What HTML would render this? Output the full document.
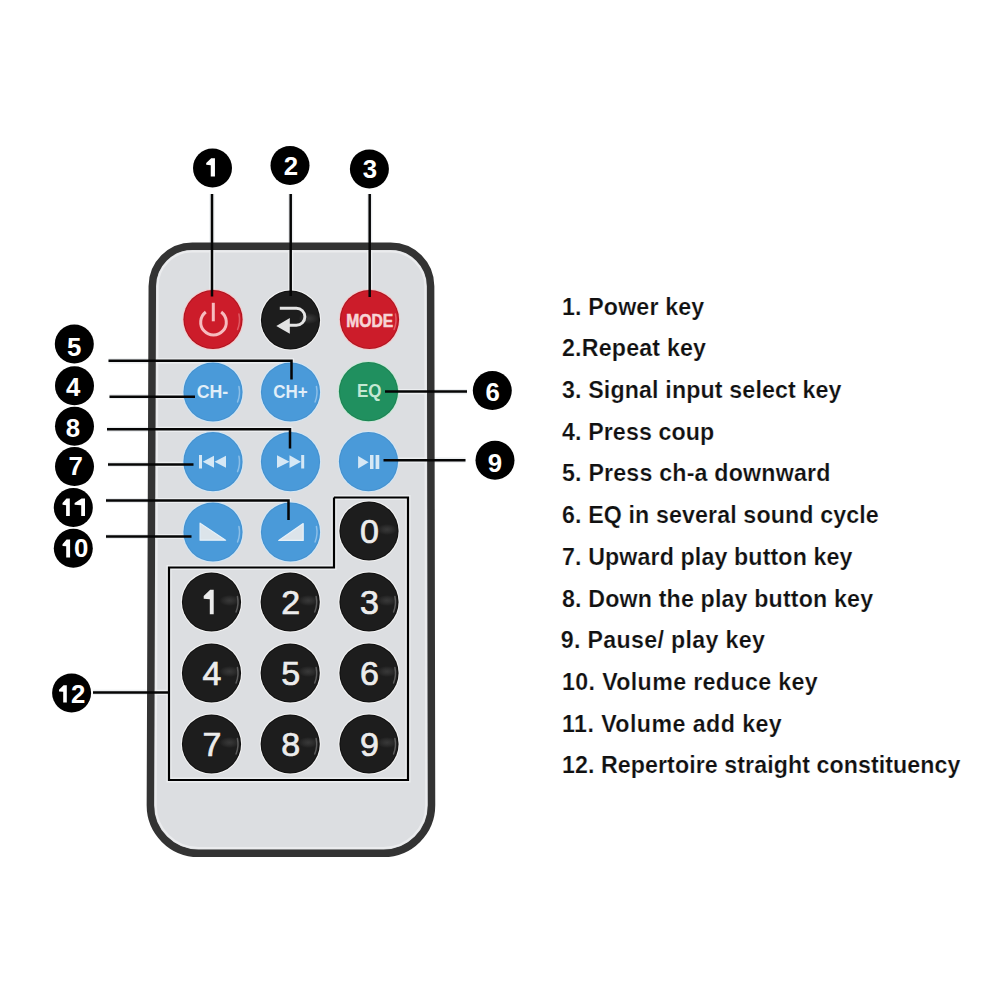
<!DOCTYPE html>
<html><head><meta charset="utf-8"><style>
html,body{margin:0;padding:0;background:#fff;width:1000px;height:1000px;overflow:hidden}
svg{display:block}
</style></head><body>
<svg width="1000" height="1000" viewBox="0 0 1000 1000">
<defs>
<radialGradient id="gK"><stop offset="0" stop-color="#4a4a4a" stop-opacity="0.6"/><stop offset="1" stop-color="#5a5a5a" stop-opacity="0"/></radialGradient>
<radialGradient id="gR"><stop offset="0" stop-color="#f07078" stop-opacity="0.5"/><stop offset="1" stop-color="#f07078" stop-opacity="0"/></radialGradient>
<radialGradient id="gB"><stop offset="0" stop-color="#9fcdf0" stop-opacity="0.6"/><stop offset="1" stop-color="#9fcdf0" stop-opacity="0"/></radialGradient>
</defs>
<path d="M192.30 246.3 H390.60 A40 40 0 0 1 430.60 286.3 L431.50 805.3 A48 48 0 0 1 383.50 853.3 H198.40 A48 48 0 0 1 150.40 805.3 L152.30 286.3 A40 40 0 0 1 192.30 246.3 Z" fill="#dcdee1"/>
<polyline points="212,194 212,296.5" fill="none" stroke="#eceef0" stroke-width="5.2" stroke-linejoin="miter"/>
<polyline points="290.7,194 290.7,296" fill="none" stroke="#eceef0" stroke-width="5.2" stroke-linejoin="miter"/>
<polyline points="369.7,194 369.7,297" fill="none" stroke="#eceef0" stroke-width="5.2" stroke-linejoin="miter"/>
<polyline points="108.5,360.8 291.5,360.8 291.5,379.5" fill="none" stroke="#eceef0" stroke-width="5.2" stroke-linejoin="miter"/>
<polyline points="109.5,396.7 195,396.7" fill="none" stroke="#eceef0" stroke-width="5.2" stroke-linejoin="miter"/>
<polyline points="107,429.3 290,429.3 290,448.5" fill="none" stroke="#eceef0" stroke-width="5.2" stroke-linejoin="miter"/>
<polyline points="108,464.4 193.5,464.4" fill="none" stroke="#eceef0" stroke-width="5.2" stroke-linejoin="miter"/>
<polyline points="106,500.5 288.5,500.5 288.5,520" fill="none" stroke="#eceef0" stroke-width="5.2" stroke-linejoin="miter"/>
<polyline points="106,536.5 191.5,536.5" fill="none" stroke="#eceef0" stroke-width="5.2" stroke-linejoin="miter"/>
<polyline points="385,391.6 467,391.6" fill="none" stroke="#eceef0" stroke-width="5.2" stroke-linejoin="miter"/>
<polyline points="383.5,460.2 465.5,460.2" fill="none" stroke="#eceef0" stroke-width="5.2" stroke-linejoin="miter"/>
<polyline points="93,692.4 169,692.4" fill="none" stroke="#eceef0" stroke-width="5.2" stroke-linejoin="miter"/>
<polyline points="334,497.5 408,497.5 408,780 169,780 169,567.5 334,567.5 334,497.5" fill="none" stroke="#eceef0" stroke-width="5"/>
<path d="M192.30 246.3 H390.60 A40 40 0 0 1 430.60 286.3 L431.50 805.3 A48 48 0 0 1 383.50 853.3 H198.40 A48 48 0 0 1 150.40 805.3 L152.30 286.3 A40 40 0 0 1 192.30 246.3 Z" fill="none" stroke="#333" stroke-width="7.5"/>
<path d="M192.30 251.6 H390.60 A34.7 34.7 0 0 1 425.30 286.3 L426.20 805.3 A42.7 42.7 0 0 1 383.50 848.0 H198.40 A42.7 42.7 0 0 1 155.70 805.3 L157.60 286.3 A34.7 34.7 0 0 1 192.30 251.6 Z" fill="none" stroke="#ebecee" stroke-width="2"/>
<circle cx="213" cy="319.5" r="30.6" fill="#f4c9cb"/>
<circle cx="213" cy="319.5" r="29.6" fill="#b0141f"/>
<circle cx="213" cy="319.5" r="28.5" fill="#cc1c2a"/>
<path d="M238.92 313.99 A26.5 26.5 0 0 1 237.57 329.43" fill="none" stroke="#f39aa0" stroke-width="1.5" stroke-linecap="round" opacity="0.5"/>
<circle cx="290.5" cy="320" r="30.6" fill="#f4f4f4"/>
<circle cx="290.5" cy="320" r="29.6" fill="#121212"/>
<circle cx="290.5" cy="320" r="28.5" fill="#1d1d1d"/>
<ellipse cx="308.5" cy="318.5" rx="10" ry="5.5" fill="url(#gK)"/>
<circle cx="369.5" cy="319.5" r="30.6" fill="#f4c9cb"/>
<circle cx="369.5" cy="319.5" r="29.6" fill="#b0141f"/>
<circle cx="369.5" cy="319.5" r="28.5" fill="#cc1c2a"/>
<path d="M395.42 313.99 A26.5 26.5 0 0 1 394.07 329.43" fill="none" stroke="#f39aa0" stroke-width="1.5" stroke-linecap="round" opacity="0.5"/>
<circle cx="213" cy="392" r="30.6" fill="#d3e6f4"/>
<circle cx="213" cy="392" r="29.6" fill="#4592d0"/>
<circle cx="213" cy="392" r="28.5" fill="#4a9ad9"/>
<path d="M238.92 386.49 A26.5 26.5 0 0 1 237.57 401.93" fill="none" stroke="#cfe6f7" stroke-width="1.5" stroke-linecap="round" opacity="0.5"/>
<circle cx="290.5" cy="392" r="30.6" fill="#d3e6f4"/>
<circle cx="290.5" cy="392" r="29.6" fill="#4592d0"/>
<circle cx="290.5" cy="392" r="28.5" fill="#4a9ad9"/>
<path d="M316.42 386.49 A26.5 26.5 0 0 1 315.07 401.93" fill="none" stroke="#cfe6f7" stroke-width="1.5" stroke-linecap="round" opacity="0.5"/>
<circle cx="368.5" cy="391.6" r="30.6" fill="#c8e8d6"/>
<circle cx="368.5" cy="391.6" r="29.6" fill="#1c8554"/>
<circle cx="368.5" cy="391.6" r="28.5" fill="#20905f"/>
<circle cx="213" cy="461.7" r="30.6" fill="#d3e6f4"/>
<circle cx="213" cy="461.7" r="29.6" fill="#4592d0"/>
<circle cx="213" cy="461.7" r="28.5" fill="#4a9ad9"/>
<path d="M238.92 456.19 A26.5 26.5 0 0 1 237.57 471.63" fill="none" stroke="#cfe6f7" stroke-width="1.5" stroke-linecap="round" opacity="0.5"/>
<circle cx="290.5" cy="461.7" r="30.6" fill="#d3e6f4"/>
<circle cx="290.5" cy="461.7" r="29.6" fill="#4592d0"/>
<circle cx="290.5" cy="461.7" r="28.5" fill="#4a9ad9"/>
<circle cx="368.5" cy="461.6" r="30.6" fill="#d3e6f4"/>
<circle cx="368.5" cy="461.6" r="29.6" fill="#4592d0"/>
<circle cx="368.5" cy="461.6" r="28.5" fill="#4a9ad9"/>
<circle cx="213" cy="532" r="30.6" fill="#d3e6f4"/>
<circle cx="213" cy="532" r="29.6" fill="#4592d0"/>
<circle cx="213" cy="532" r="28.5" fill="#4a9ad9"/>
<path d="M238.92 526.49 A26.5 26.5 0 0 1 237.57 541.93" fill="none" stroke="#cfe6f7" stroke-width="1.5" stroke-linecap="round" opacity="0.5"/>
<circle cx="290.5" cy="532" r="30.6" fill="#d3e6f4"/>
<circle cx="290.5" cy="532" r="29.6" fill="#4592d0"/>
<circle cx="290.5" cy="532" r="28.5" fill="#4a9ad9"/>
<path d="M316.42 526.49 A26.5 26.5 0 0 1 315.07 541.93" fill="none" stroke="#cfe6f7" stroke-width="1.5" stroke-linecap="round" opacity="0.5"/>
<circle cx="369" cy="531" r="30.6" fill="#f4f4f4"/>
<circle cx="369" cy="531" r="29.6" fill="#121212"/>
<circle cx="369" cy="531" r="28.5" fill="#1d1d1d"/>
<ellipse cx="387" cy="529.5" rx="10" ry="5.5" fill="url(#gK)"/>
<circle cx="211.5" cy="602" r="30.6" fill="#f4f4f4"/>
<circle cx="211.5" cy="602" r="29.6" fill="#121212"/>
<circle cx="211.5" cy="602" r="28.5" fill="#1d1d1d"/>
<ellipse cx="229.5" cy="600.5" rx="10" ry="5.5" fill="url(#gK)"/>
<path d="M237.42 596.49 A26.5 26.5 0 0 1 236.07 611.93" fill="none" stroke="#9a9a9a" stroke-width="1.5" stroke-linecap="round" opacity="0.5"/>
<circle cx="290.2" cy="602" r="30.6" fill="#f4f4f4"/>
<circle cx="290.2" cy="602" r="29.6" fill="#121212"/>
<circle cx="290.2" cy="602" r="28.5" fill="#1d1d1d"/>
<ellipse cx="308.2" cy="600.5" rx="10" ry="5.5" fill="url(#gK)"/>
<path d="M316.12 596.49 A26.5 26.5 0 0 1 314.77 611.93" fill="none" stroke="#9a9a9a" stroke-width="1.5" stroke-linecap="round" opacity="0.5"/>
<circle cx="369" cy="602" r="30.6" fill="#f4f4f4"/>
<circle cx="369" cy="602" r="29.6" fill="#121212"/>
<circle cx="369" cy="602" r="28.5" fill="#1d1d1d"/>
<ellipse cx="387" cy="600.5" rx="10" ry="5.5" fill="url(#gK)"/>
<path d="M394.92 596.49 A26.5 26.5 0 0 1 393.57 611.93" fill="none" stroke="#9a9a9a" stroke-width="1.5" stroke-linecap="round" opacity="0.5"/>
<circle cx="211.5" cy="673" r="30.6" fill="#f4f4f4"/>
<circle cx="211.5" cy="673" r="29.6" fill="#121212"/>
<circle cx="211.5" cy="673" r="28.5" fill="#1d1d1d"/>
<ellipse cx="229.5" cy="671.5" rx="10" ry="5.5" fill="url(#gK)"/>
<path d="M237.42 667.49 A26.5 26.5 0 0 1 236.07 682.93" fill="none" stroke="#9a9a9a" stroke-width="1.5" stroke-linecap="round" opacity="0.5"/>
<circle cx="290.2" cy="673" r="30.6" fill="#f4f4f4"/>
<circle cx="290.2" cy="673" r="29.6" fill="#121212"/>
<circle cx="290.2" cy="673" r="28.5" fill="#1d1d1d"/>
<ellipse cx="308.2" cy="671.5" rx="10" ry="5.5" fill="url(#gK)"/>
<path d="M316.12 667.49 A26.5 26.5 0 0 1 314.77 682.93" fill="none" stroke="#9a9a9a" stroke-width="1.5" stroke-linecap="round" opacity="0.5"/>
<circle cx="369" cy="673" r="30.6" fill="#f4f4f4"/>
<circle cx="369" cy="673" r="29.6" fill="#121212"/>
<circle cx="369" cy="673" r="28.5" fill="#1d1d1d"/>
<ellipse cx="387" cy="671.5" rx="10" ry="5.5" fill="url(#gK)"/>
<path d="M394.92 667.49 A26.5 26.5 0 0 1 393.57 682.93" fill="none" stroke="#9a9a9a" stroke-width="1.5" stroke-linecap="round" opacity="0.5"/>
<circle cx="211.5" cy="744" r="30.6" fill="#f4f4f4"/>
<circle cx="211.5" cy="744" r="29.6" fill="#121212"/>
<circle cx="211.5" cy="744" r="28.5" fill="#1d1d1d"/>
<ellipse cx="229.5" cy="742.5" rx="10" ry="5.5" fill="url(#gK)"/>
<path d="M237.42 738.49 A26.5 26.5 0 0 1 236.07 753.93" fill="none" stroke="#9a9a9a" stroke-width="1.5" stroke-linecap="round" opacity="0.5"/>
<circle cx="290.2" cy="744" r="30.6" fill="#f4f4f4"/>
<circle cx="290.2" cy="744" r="29.6" fill="#121212"/>
<circle cx="290.2" cy="744" r="28.5" fill="#1d1d1d"/>
<ellipse cx="308.2" cy="742.5" rx="10" ry="5.5" fill="url(#gK)"/>
<path d="M316.12 738.49 A26.5 26.5 0 0 1 314.77 753.93" fill="none" stroke="#9a9a9a" stroke-width="1.5" stroke-linecap="round" opacity="0.5"/>
<circle cx="369" cy="744" r="30.6" fill="#f4f4f4"/>
<circle cx="369" cy="744" r="29.6" fill="#121212"/>
<circle cx="369" cy="744" r="28.5" fill="#1d1d1d"/>
<ellipse cx="387" cy="742.5" rx="10" ry="5.5" fill="url(#gK)"/>
<path d="M394.92 738.49 A26.5 26.5 0 0 1 393.57 753.93" fill="none" stroke="#9a9a9a" stroke-width="1.5" stroke-linecap="round" opacity="0.5"/>
<path d="M205.8 312 A12.8 12.8 0 1 0 221.2 312" fill="none" stroke="#f6bcbf" stroke-width="3"/>
<line x1="213.3" y1="302.8" x2="213.3" y2="321.3" stroke="#f6bcbf" stroke-width="3"/>
<path d="M279.8 308.2 H296.4 A8.5 8.5 0 0 1 296.4 325.2 H289" fill="none" stroke="#e4e4e4" stroke-width="2.9"/>
<polygon points="276.3,325.9 289.8,318 289.8,333.8" fill="#e4e4e4"/>
<text x="369.8" y="326.6" font-family='"Liberation Sans", sans-serif' font-weight="bold" font-size="18.5" fill="#f7d4d5" stroke="#f7d4d5" stroke-width="0.6" text-anchor="middle" textLength="47" lengthAdjust="spacingAndGlyphs">MODE</text>
<text x="212.5" y="397.7" font-family='"Liberation Sans", sans-serif' font-weight="bold" font-size="18" fill="#e1eef8" text-anchor="middle" textLength="31.5" lengthAdjust="spacingAndGlyphs">CH-</text>
<text x="290.5" y="398" font-family='"Liberation Sans", sans-serif' font-weight="bold" font-size="18" fill="#e1eef8" text-anchor="middle" textLength="34.5" lengthAdjust="spacingAndGlyphs">CH+</text>
<text x="369.2" y="397.2" font-family='"Liberation Sans", sans-serif' font-weight="bold" font-size="18.6" fill="#c4e8d3" text-anchor="middle" textLength="24.5" lengthAdjust="spacingAndGlyphs">EQ</text>
<rect x="199" y="455" width="3" height="13.5" fill="#d6e8f5"/>
<polygon points="202.7,461.7 214,455.7 214,467.7" fill="#d6e8f5"/>
<polygon points="214.5,461.7 226,455.7 226,467.7" fill="#d6e8f5"/>
<polygon points="277,455.3 289.5,461.7 277,468.1" fill="#d6e8f5"/>
<polygon points="289.5,455.3 301,461.7 289.5,468.1" fill="#d6e8f5"/>
<rect x="301.2" y="455" width="3" height="13.5" fill="#d6e8f5"/>
<polygon points="358.1,456 368.6,462.3 358.1,468.6" fill="#d6e8f5"/>
<rect x="370" y="455" width="3.5" height="14" fill="#d6e8f5"/>
<rect x="375.6" y="455" width="3.7" height="14" fill="#d6e8f5"/>
<polygon points="200.1,523.2 200.1,540.2 225.6,540.2" fill="#dce4ea" stroke="#e6f1f9" stroke-width="1.2" stroke-linejoin="round"/>
<polygon points="278.7,540.4 303.2,540.4 303.2,523.5" fill="#dce4ea" stroke="#e6f1f9" stroke-width="1.2" stroke-linejoin="round"/>
<text x="369.5" y="543" font-family='"Liberation Sans", sans-serif' font-size="34" fill="#ececec" stroke="#ececec" stroke-width="0.7" text-anchor="middle">0</text>
<path d="M213.70 589.80 L213.70 614.30 L209.80 614.30 L209.80 599.23 L203.70 598.74 L203.70 596.10 L210.19 589.80 Z" fill="#ececec"/>
<text x="290.7" y="614" font-family='"Liberation Sans", sans-serif' font-size="34" fill="#ececec" stroke="#ececec" stroke-width="0.7" text-anchor="middle">2</text>
<text x="369.5" y="614" font-family='"Liberation Sans", sans-serif' font-size="34" fill="#ececec" stroke="#ececec" stroke-width="0.7" text-anchor="middle">3</text>
<text x="212.0" y="685" font-family='"Liberation Sans", sans-serif' font-size="34" fill="#ececec" stroke="#ececec" stroke-width="0.7" text-anchor="middle">4</text>
<text x="290.7" y="685" font-family='"Liberation Sans", sans-serif' font-size="34" fill="#ececec" stroke="#ececec" stroke-width="0.7" text-anchor="middle">5</text>
<text x="369.5" y="685" font-family='"Liberation Sans", sans-serif' font-size="34" fill="#ececec" stroke="#ececec" stroke-width="0.7" text-anchor="middle">6</text>
<text x="212.0" y="756" font-family='"Liberation Sans", sans-serif' font-size="34" fill="#ececec" stroke="#ececec" stroke-width="0.7" text-anchor="middle">7</text>
<text x="290.7" y="756" font-family='"Liberation Sans", sans-serif' font-size="34" fill="#ececec" stroke="#ececec" stroke-width="0.7" text-anchor="middle">8</text>
<text x="369.5" y="756" font-family='"Liberation Sans", sans-serif' font-size="34" fill="#ececec" stroke="#ececec" stroke-width="0.7" text-anchor="middle">9</text>
<polyline points="334,497.5 408,497.5 408,780 169,780 169,567.5 334,567.5 334,497.5" fill="none" stroke="#000" stroke-width="2.2"/>
<polyline points="212,194 212,296.5" fill="none" stroke="#050505" stroke-width="2.5" stroke-linejoin="miter"/>
<polyline points="290.7,194 290.7,296" fill="none" stroke="#050505" stroke-width="2.5" stroke-linejoin="miter"/>
<polyline points="369.7,194 369.7,297" fill="none" stroke="#050505" stroke-width="2.5" stroke-linejoin="miter"/>
<polyline points="108.5,360.8 291.5,360.8 291.5,379.5" fill="none" stroke="#050505" stroke-width="2.5" stroke-linejoin="miter"/>
<polyline points="109.5,396.7 195,396.7" fill="none" stroke="#050505" stroke-width="2.5" stroke-linejoin="miter"/>
<polyline points="107,429.3 290,429.3 290,448.5" fill="none" stroke="#050505" stroke-width="2.5" stroke-linejoin="miter"/>
<polyline points="108,464.4 193.5,464.4" fill="none" stroke="#050505" stroke-width="2.5" stroke-linejoin="miter"/>
<polyline points="106,500.5 288.5,500.5 288.5,520" fill="none" stroke="#050505" stroke-width="2.5" stroke-linejoin="miter"/>
<polyline points="106,536.5 191.5,536.5" fill="none" stroke="#050505" stroke-width="2.5" stroke-linejoin="miter"/>
<polyline points="385,391.6 467,391.6" fill="none" stroke="#050505" stroke-width="2.5" stroke-linejoin="miter"/>
<polyline points="383.5,460.2 465.5,460.2" fill="none" stroke="#050505" stroke-width="2.5" stroke-linejoin="miter"/>
<polyline points="93,692.4 169,692.4" fill="none" stroke="#050505" stroke-width="2.5" stroke-linejoin="miter"/>
<circle cx="212.5" cy="168" r="19.5" fill="#000"/>
<path d="M214.95 158.25 L214.95 176.50 L210.75 176.50 L210.75 165.19 L206.20 164.82 L206.20 163.00 L211.17 158.25 Z" fill="#fff"/>
<circle cx="290" cy="165.4" r="19.5" fill="#000"/>
<text x="291" y="174.6" font-family='"Liberation Sans", sans-serif' font-weight="bold" font-size="25.8" fill="#fff" text-anchor="middle">2</text>
<circle cx="369.4" cy="168.9" r="19.5" fill="#000"/>
<text x="370" y="178.4" font-family='"Liberation Sans", sans-serif' font-weight="bold" font-size="25.8" fill="#fff" text-anchor="middle">3</text>
<circle cx="74.3" cy="344" r="19.5" fill="#000"/>
<text x="74.1" y="356.4" font-family='"Liberation Sans", sans-serif' font-weight="bold" font-size="25.8" fill="#fff" text-anchor="middle">5</text>
<circle cx="74.5" cy="385.8" r="19.5" fill="#000"/>
<text x="73.2" y="396.3" font-family='"Liberation Sans", sans-serif' font-weight="bold" font-size="25.8" fill="#fff" text-anchor="middle">4</text>
<circle cx="74.5" cy="426.2" r="19.5" fill="#000"/>
<text x="72.9" y="436.9" font-family='"Liberation Sans", sans-serif' font-weight="bold" font-size="25.8" fill="#fff" text-anchor="middle">8</text>
<circle cx="74.5" cy="466.6" r="19.5" fill="#000"/>
<text x="75.6" y="475" font-family='"Liberation Sans", sans-serif' font-weight="bold" font-size="25.8" fill="#fff" text-anchor="middle">7</text>
<circle cx="73.3" cy="507.5" r="19.5" fill="#000"/>
<path d="M69.80 498.50 L69.80 516.00 L66.10 516.00 L66.10 505.15 L62.50 504.80 L62.50 503.05 L66.47 498.50 Z" fill="#fff"/>
<path d="M85.00 498.50 L85.00 516.00 L81.20 516.00 L81.20 505.15 L74.60 504.80 L74.60 503.05 L81.58 498.50 Z" fill="#fff"/>
<circle cx="73.3" cy="548.3" r="19.5" fill="#000"/>
<path d="M70.10 539.50 L70.10 557.40 L66.20 557.40 L66.20 546.30 L62.50 545.94 L62.50 544.15 L66.59 539.50 Z" fill="#fff"/>
<text x="81.1" y="557.3" font-family='"Liberation Sans", sans-serif' font-weight="bold" font-size="25.8" fill="#fff" text-anchor="middle">0</text>
<circle cx="492.3" cy="390.6" r="19.5" fill="#000"/>
<text x="492.8" y="400.6" font-family='"Liberation Sans", sans-serif' font-weight="bold" font-size="25.8" fill="#fff" text-anchor="middle">6</text>
<circle cx="495" cy="460.2" r="19.5" fill="#000"/>
<text x="495" y="471.5" font-family='"Liberation Sans", sans-serif' font-weight="bold" font-size="25.8" fill="#fff" text-anchor="middle">9</text>
<circle cx="71.6" cy="692.9" r="19.5" fill="#000"/>
<path d="M66.80 685.25 L66.80 702.50 L63.20 702.50 L63.20 691.80 L59.00 691.46 L59.00 689.74 L63.56 685.25 Z" fill="#fff"/>
<text x="78.1" y="702.6" font-family='"Liberation Sans", sans-serif' font-weight="bold" font-size="25.8" fill="#fff" text-anchor="middle">2</text>
<text x="562" y="314.6" font-family='"Liberation Sans", sans-serif' font-weight="bold" font-size="23.2" letter-spacing="0.15" fill="#111" stroke="#fff" stroke-width="0.2">1. Power key</text>
<text x="562" y="356.3" font-family='"Liberation Sans", sans-serif' font-weight="bold" font-size="23.2" letter-spacing="0.2" fill="#111" stroke="#fff" stroke-width="0.2">2.Repeat key</text>
<text x="562" y="398.0" font-family='"Liberation Sans", sans-serif' font-weight="bold" font-size="23.2" letter-spacing="0.15" fill="#111" stroke="#fff" stroke-width="0.2">3. Signal input select key</text>
<text x="562" y="439.7" font-family='"Liberation Sans", sans-serif' font-weight="bold" font-size="23.2" letter-spacing="0.12" fill="#111" stroke="#fff" stroke-width="0.2">4. Press coup</text>
<text x="562" y="481.4" font-family='"Liberation Sans", sans-serif' font-weight="bold" font-size="23.2" letter-spacing="0.2" fill="#111" stroke="#fff" stroke-width="0.2">5. Press ch-a downward</text>
<text x="562" y="523.1" font-family='"Liberation Sans", sans-serif' font-weight="bold" font-size="23.2" letter-spacing="0.13" fill="#111" stroke="#fff" stroke-width="0.2">6. EQ in several sound cycle</text>
<text x="562" y="564.8" font-family='"Liberation Sans", sans-serif' font-weight="bold" font-size="23.2" letter-spacing="0.13" fill="#111" stroke="#fff" stroke-width="0.2">7. Upward play button key</text>
<text x="562" y="606.5" font-family='"Liberation Sans", sans-serif' font-weight="bold" font-size="23.2" letter-spacing="0.17" fill="#111" stroke="#fff" stroke-width="0.2">8. Down the play button key</text>
<text x="560.8" y="648.2" font-family='"Liberation Sans", sans-serif' font-weight="bold" font-size="23.2" letter-spacing="0.33" fill="#111" stroke="#fff" stroke-width="0.2">9. Pause/ play key</text>
<text x="562" y="689.9" font-family='"Liberation Sans", sans-serif' font-weight="bold" font-size="23.2" letter-spacing="0.37" fill="#111" stroke="#fff" stroke-width="0.2">10. Volume reduce key</text>
<text x="562" y="731.6" font-family='"Liberation Sans", sans-serif' font-weight="bold" font-size="23.2" letter-spacing="0.44" fill="#111" stroke="#fff" stroke-width="0.2">11. Volume add key</text>
<text x="562" y="773.3" font-family='"Liberation Sans", sans-serif' font-weight="bold" font-size="23.2" letter-spacing="0.08" fill="#111" stroke="#fff" stroke-width="0.2">12. Repertoire straight constituency</text>
</svg>
</body></html>
